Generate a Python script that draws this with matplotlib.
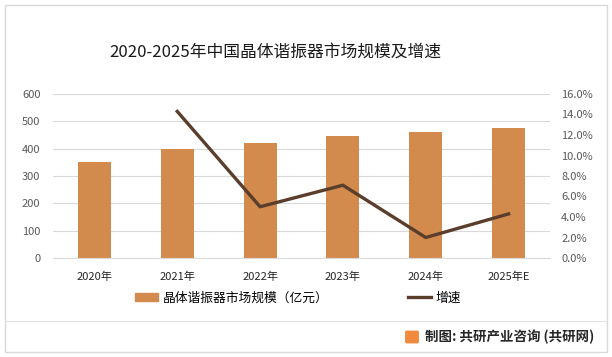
import matplotlib.pyplot as plt
import matplotlib.patches as mpatches
from matplotlib.lines import Line2D
import numpy as np

plt.rcParams['font.family'] = ['Noto Sans CJK SC', 'DejaVu Sans']

# data
years = ['2020年', '2021年', '2022年', '2023年', '2024年', '2025年E']
scale = [350, 400, 420, 447, 460, 477]           # 市场规模 (亿元)
growth = [None, 14.3, 5.0, 7.1, 2.0, 4.3]        # 增速 (%)

bar_color = '#D38B4D'
line_color = '#5A3E2B'
tick_color = '#595959'

fig = plt.figure(figsize=(6.12, 3.57), dpi=100)

# outer frame
fig.add_artist(mpatches.Rectangle((5/612, 5/357), 602/612, 347/357, transform=fig.transFigure,
                                  fill=False, edgecolor='#D9D9D9', linewidth=1))

ax = fig.add_axes([53/612, 99/357, 497/612, 164/357])
x = np.arange(len(years))
ax.bar(x, scale, width=0.4, color=bar_color, zorder=2)
ax.set_xlim(-0.5, len(years) - 0.5)
ax.set_ylim(0, 600)
ax.set_yticks(range(0, 601, 100))
ax.grid(axis='y', color='#D9D9D9', linewidth=0.8, zorder=0)
ax.set_xticks(x)
ax.set_xticklabels(years, fontsize=8, color='#262626')
ax.tick_params(axis='y', labelsize=8, labelcolor=tick_color, length=0, pad=9)
ax.tick_params(axis='x', length=0, pad=10)
for s in ax.spines.values():
    s.set_visible(False)
ax.spines['bottom'].set_visible(True)
ax.spines['bottom'].set_color('#D9D9D9')

ax2 = ax.twinx()
gx = [i for i, g in enumerate(growth) if g is not None]
gy = [g for g in growth if g is not None]
ax2.plot(gx, gy, color=line_color, linewidth=2.4, zorder=3)
ax2.set_ylim(0, 16)
ax2.set_yticks(np.arange(0, 16.1, 2))
ax2.set_yticklabels([f'{v:.1f}%' for v in np.arange(0, 16.1, 2)])
ax2.tick_params(axis='y', labelsize=8, labelcolor=tick_color, length=0, pad=8)
for s in ax2.spines.values():
    s.set_visible(False)

fig.text(275/612, 1 - 52/357, '2020-2025年中国晶体谐振器市场规模及增速', ha='center', va='center',
         fontsize=12.1, color='#1a1a1a')

handles = [mpatches.Patch(color=bar_color), Line2D([0], [0], color=line_color, linewidth=2.4)]
fig.legend(handles, ['晶体谐振器市场规模（亿元）', '增速'], ncol=2, loc='center left',
           bbox_to_anchor=(123/612, 1 - 298/357), frameon=False, fontsize=9.2,
           columnspacing=6.2, handlelength=1.8, handleheight=0.6, handletextpad=0.4)

# footer
fig.add_artist(Line2D([5/612, 607/612], [1 - 321/357, 1 - 321/357], transform=fig.transFigure,
                      color='#E3E3E3', linewidth=0.8))
fig.add_artist(mpatches.FancyBboxPatch((407/612, 1 - 342/357), 10/612, 10/357,
                                       boxstyle='round,pad=0.002', transform=fig.transFigure,
                                       color='#F08A3C'))
fig.text(425/612, 1 - 337/357, '制图: 共研产业咨询 (共研网)', ha='left', va='center',
         fontsize=9.7, color='#262626', fontweight='semibold')

fig.savefig('out.png', dpi=100)
